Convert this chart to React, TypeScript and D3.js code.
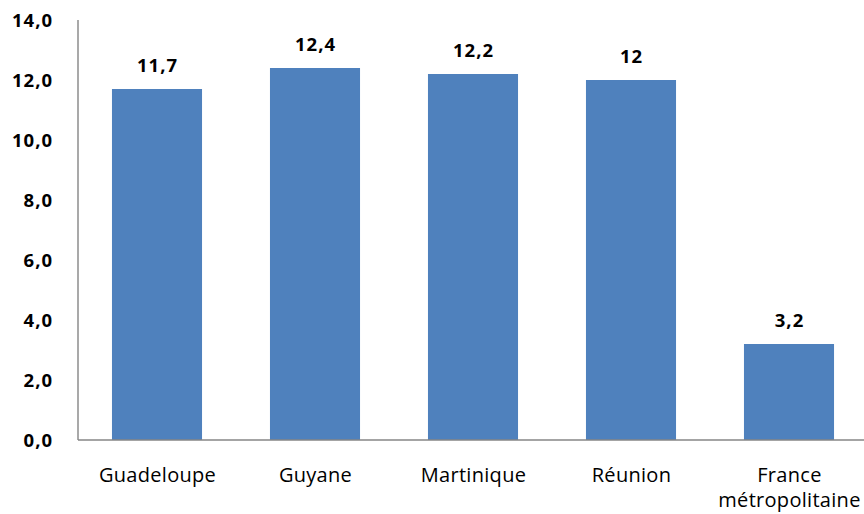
import React from "react";
import * as d3 from "d3";

const categories: string[][] = [["Guadeloupe"], ["Guyane"], ["Martinique"], ["Réunion"], ["France", "métropolitaine"]];
const values: number[] = [11.7, 12.4, 12.2, 12, 3.2];
const valueLabels: string[] = ["11,7", "12,4", "12,2", "12", "3,2"];
const yTicks: number[] = [0, 2, 4, 6, 8, 10, 12, 14];

export default function App() {
  const W = 864, H = 514;
  const left = 78, right = 868, top = 20, bottom = 440;
  const x = d3.scaleBand<number>().domain(values.map((_, i) => i)).range([left, right]).paddingInner(0.43).paddingOuter(0.215);
  const y = d3.scaleLinear().domain([0, 14]).range([bottom, top]);
  const fmt = (v: number) => v.toFixed(1).replace(".", ",");
  const font = "'Open Sans', sans-serif";
  return (
    <svg width={W} height={H} style={{ position: "absolute", left: 0, top: 0, background: "#fff" }}>
      {values.map((v, i) => (
        <rect key={i} x={x(i)!} y={y(v)} width={x.bandwidth()} height={y(0) - y(v)} fill="#4F81BD" />
      ))}
      <line x1={left} x2={left} y1={top} y2={bottom} stroke="#8c8c8c" strokeWidth={1.5} />
      <line x1={left} x2={W} y1={bottom} y2={bottom} stroke="#868686" strokeWidth={1.5} />
      {yTicks.map((t) => (
        <text key={t} x={53} y={y(t)} dy="0.36em" textAnchor="end" fontFamily={font} fontWeight={700} fontSize={18.5} letterSpacing={1} fill="#000">
          {fmt(t)}
        </text>
      ))}
      {values.map((v, i) => (
        <text key={i} x={x(i)! + x.bandwidth() / 2 + 0.5} y={y(v) - 17} textAnchor="middle" fontFamily={font} fontWeight={700} fontSize={18.5} letterSpacing={1} fill="#000">
          {valueLabels[i]}
        </text>
      ))}
      {categories.map((lines, i) => (
        <text key={i} x={x(i)! + x.bandwidth() / 2 + 0.5} y={482} textAnchor="middle" fontFamily={font} fontSize={20} letterSpacing={0.3} fill="#000">
          {lines.map((l, j) => (
            <tspan key={j} x={x(i)! + x.bandwidth() / 2 + 0.5} dy={j === 0 ? 0 : 25}>{l}</tspan>
          ))}
        </text>
      ))}
    </svg>
  );
}
